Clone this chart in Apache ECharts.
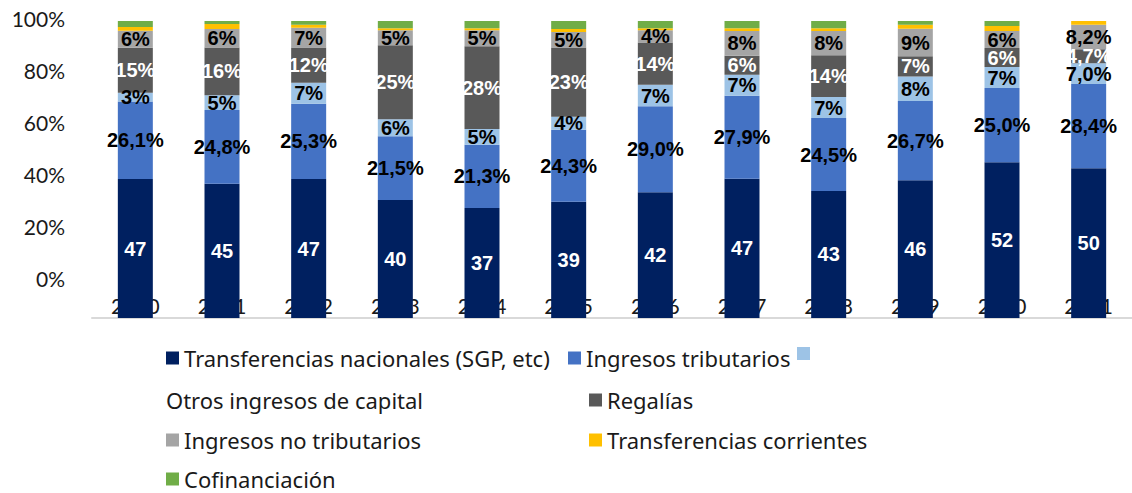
<!DOCTYPE html>
<html>
<head>
<meta charset="utf-8">
<script src="https://cdn.jsdelivr.net/npm/echarts@6/dist/echarts.min.js"></script>
<style>
  html, body { margin: 0; padding: 0; background: #fff; }
  #chart { width: 1132px; height: 493px; }
</style>
</head>
<body>
<div id="chart"></div>
<script>
// categorías (años)
const years = ['2010', '2011', '2012', '2013', '2014', '2015', '2016', '2017', '2018', '2019', '2020', '2021']

// participación (%) de cada fuente en el total
const transfNacionales = [46.8, 45.2, 46.8, 39.7, 37.0, 39.1, 42.3, 46.9, 42.8, 46.4, 52.4, 50.4]
const ingTributarios = [26.1, 24.8, 25.3, 21.5, 21.3, 24.3, 29.0, 27.9, 24.5, 26.7, 25.0, 28.4]
const otrosCapital = [2.9, 5.0, 7.1, 5.7, 5.3, 4.4, 7.2, 7.1, 7.1, 8.2, 7.1, 7.0]
const regalias = [15.2, 16.1, 11.9, 24.9, 27.9, 23.3, 14.3, 6.4, 14.1, 6.8, 6.4, 4.7]
const ingNoTributarios = [5.7, 6.2, 6.6, 5.1, 5.4, 5.2, 4.1, 8.3, 8.1, 9.3, 5.7, 8.2]
const transfCorrientes = [1.3, 1.7, 1.0, 0.7, 0.7, 1.0, 0.7, 1.0, 1.0, 1.3, 1.7, 1.3]
const cofinanciacion = [2.0, 1.0, 1.3, 2.4, 2.4, 2.7, 2.4, 2.4, 2.4, 1.3, 1.7, 0]

const yTicks = [0, 20, 40, 60, 80, 100]

const chart = echarts.init(document.getElementById('chart'), null, { renderer: 'svg' })

const axisFont = 'Lato, "Noto Sans", sans-serif'
const legendFont = '"Noto Sans", Lato, sans-serif'
const labelFont = '"Liberation Sans", Arial, sans-serif'

const pct = (v, dec) => v.toFixed(dec).replace('.', ',') + '%'
// 2021 se rotula con un decimal
const smallFmt = p => (p.dataIndex === years.length - 1 ? pct(p.value, 1) : Math.round(p.value) + '%')

const lbl = (color, formatter) => ({
  show: true,
  position: 'inside',
  color: color,
  fontFamily: labelFont,
  fontWeight: 'bold',
  fontSize: 20,
  formatter: formatter,
})

const mkSeries = (name, data, color, label) => ({
  name: name,
  type: 'bar',
  stack: 'total',
  xAxisIndex: 1,
  yAxisIndex: 1,
  barWidth: 35,
  data: data,
  itemStyle: { color: color },
  label: label || { show: false },
})

// una leyenda por elemento, para imitar el acomodo original
const legendText = { fontFamily: legendFont, fontSize: 22, color: '#1a1a1a', lineHeight: 22 }
const mkLegend = (name, left, cy, extra) => Object.assign({
  data: [name],
  left: left,
  top: cy - 11,
  icon: 'rect',
  itemWidth: 13,
  itemHeight: 13,
  selectedMode: false,
  padding: 0,
  textStyle: legendText,
}, extra || {})

const option = {
  animation: false,
  legend: [
    mkLegend('Transferencias nacionales (SGP, etc)', 166, 358),
    mkLegend('Ingresos tributarios', 568, 358),
    mkLegend('Otros ingresos de capital', 797, 358, { formatter: () => '' }),
    mkLegend('Otros ingresos de capital', 161, 400, { icon: 'none', itemWidth: 0 }),
    mkLegend('Regalías', 589, 400),
    mkLegend('Ingresos no tributarios', 166, 440),
    mkLegend('Transferencias corrientes', 589, 440),
    mkLegend('Cofinanciación', 166, 479),
  ],
  grid: [
    { left: 92, top: 18, width: 1049, height: 260 },
    { left: 92, top: 21, width: 1049, height: 297 },
  ],
  xAxis: [
    { gridIndex: 0, type: 'category', data: years, show: false },
    {
      gridIndex: 1,
      type: 'category',
      data: years,
      axisLine: { lineStyle: { color: '#d9d9d9', width: 2 } },
      axisTick: { show: false },
      axisLabel: {
        margin: -13,
        verticalAlign: 'middle',
        fontFamily: axisFont,
        fontSize: 21,
        color: '#1a1a1a',
      },
    },
  ],
  yAxis: [
    {
      gridIndex: 0,
      type: 'value',
      min: yTicks[0],
      max: yTicks[yTicks.length - 1],
      interval: yTicks[1] - yTicks[0],
      axisLine: { show: false },
      axisTick: { show: false },
      splitLine: { show: false },
      axisLabel: {
        margin: 27,
        formatter: '{value}%',
        fontFamily: axisFont,
        fontSize: 21,
        color: '#1a1a1a',
      },
    },
    { gridIndex: 1, type: 'value', min: 0, max: 100, show: false },
  ],
  series: [
    mkSeries('Transferencias nacionales (SGP, etc)', transfNacionales, '#002060', lbl('#fff', p => Math.round(p.value))),
    mkSeries('Ingresos tributarios', ingTributarios, '#4472c4', lbl('#000', p => pct(p.value, 1))),
    mkSeries('Otros ingresos de capital', otrosCapital, '#9dc3e6', lbl('#000', smallFmt)),
    mkSeries('Regalías', regalias, '#595959', lbl('#fff', smallFmt)),
    mkSeries('Ingresos no tributarios', ingNoTributarios, '#a5a5a5', lbl('#000', smallFmt)),
    mkSeries('Transferencias corrientes', transfCorrientes, '#ffc000'),
    mkSeries('Cofinanciación', cofinanciacion, '#70ad47'),
  ],
}

chart.setOption(option)
</script>
</body>
</html>
